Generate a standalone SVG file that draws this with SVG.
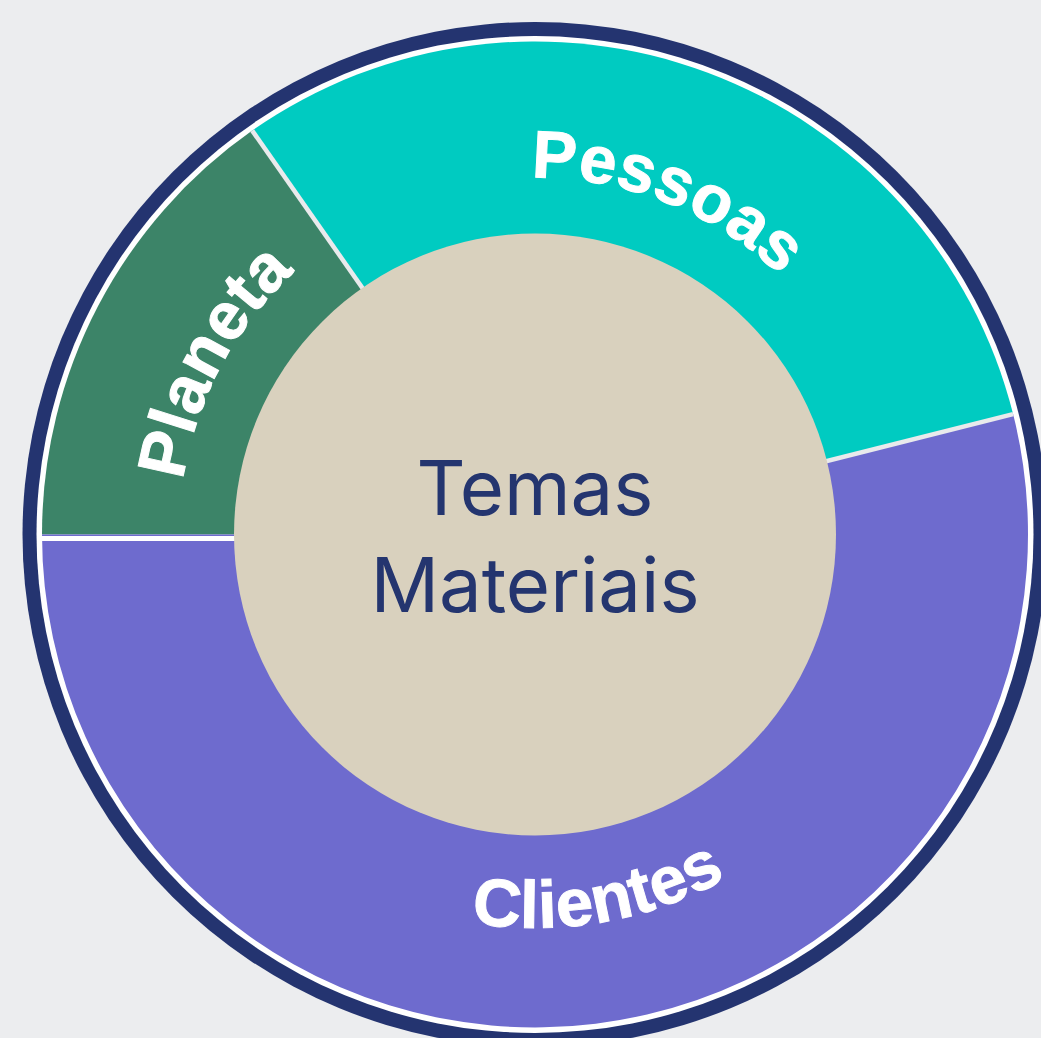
<svg xmlns="http://www.w3.org/2000/svg" width="1041" height="1038" viewBox="0 0 1041 1038">
  <style>
    .label { font-family: "Liberation Sans", Arial, sans-serif; font-weight: 700; font-size: 67px; fill: #ffffff; stroke: #ffffff; stroke-width: 1; letter-spacing: 0.5px; }
    .center { font-family: Inter, "Liberation Sans", sans-serif; font-weight: 400; font-size: 76px; fill: #24356F; text-anchor: middle; }
    .sep { stroke: #E9EAEC; stroke-width: 4.5; fill: none; }
  </style>
  <defs>
    <path id="arc-pessoas" d="M230.6,348 A357,357 0 0 1 884.8,605.7"/>
    <path id="arc-planeta" d="M314.8,814.3 A356,356 0 0 1 646.2,196.3"/>
    <path id="arc-clientes" d="M167.6,674.3 A393,393 0 0 0 928,541.4"/>
  </defs>
  <rect x="0" y="0" width="1041" height="1038" fill="#ECEDEF"/>
  <g id="frame">
    <circle cx="535" cy="534.5" r="512.5" fill="#243470"/>
    <circle cx="535" cy="534.5" r="498.5" fill="#ffffff"/>
  </g>
  <g id="node-planeta">
    <path d="M535,534.5 L42,534.5 A493,493 0 0 1 252.2,130.6 Z" fill="#3C8468"/>
  </g>
  <g id="node-pessoas">
    <path d="M535,534.5 L252.2,130.6 A493,493 0 0 1 1013.1,414.1 Z" fill="#00CBC1"/>
  </g>
  <g id="node-clientes">
    <path d="M535,534.5 L1013.1,414.1 A493,493 0 1 1 42,534.5 Z" fill="#6E6BCE"/>
  </g>
  <g id="connectors">
    <line x1="42" y1="538.5" x2="320" y2="538.5" stroke="#ffffff" stroke-width="5"/>
    <line class="sep" x1="535" y1="534.5" x2="252.2" y2="130.6"/>
    <line class="sep" x1="535" y1="534.5" x2="1013.1" y2="414.1"/>
  </g>
  <g id="labels">
    <text class="label"><textPath href="#arc-pessoas" startOffset="50%" text-anchor="middle">Pessoas</textPath></text>
    <text class="label"><textPath href="#arc-planeta" startOffset="50%" text-anchor="middle">Planeta</textPath></text>
    <text class="label"><textPath href="#arc-clientes" startOffset="50%" text-anchor="middle">Clientes</textPath></text>
  </g>
  <g id="node-center">
    <circle cx="535" cy="534.5" r="301" fill="#D9D1BE"/>
    <text class="center" x="535" y="515">Temas</text>
    <text class="center" x="535" y="612">Materiais</text>
  </g>
</svg>
